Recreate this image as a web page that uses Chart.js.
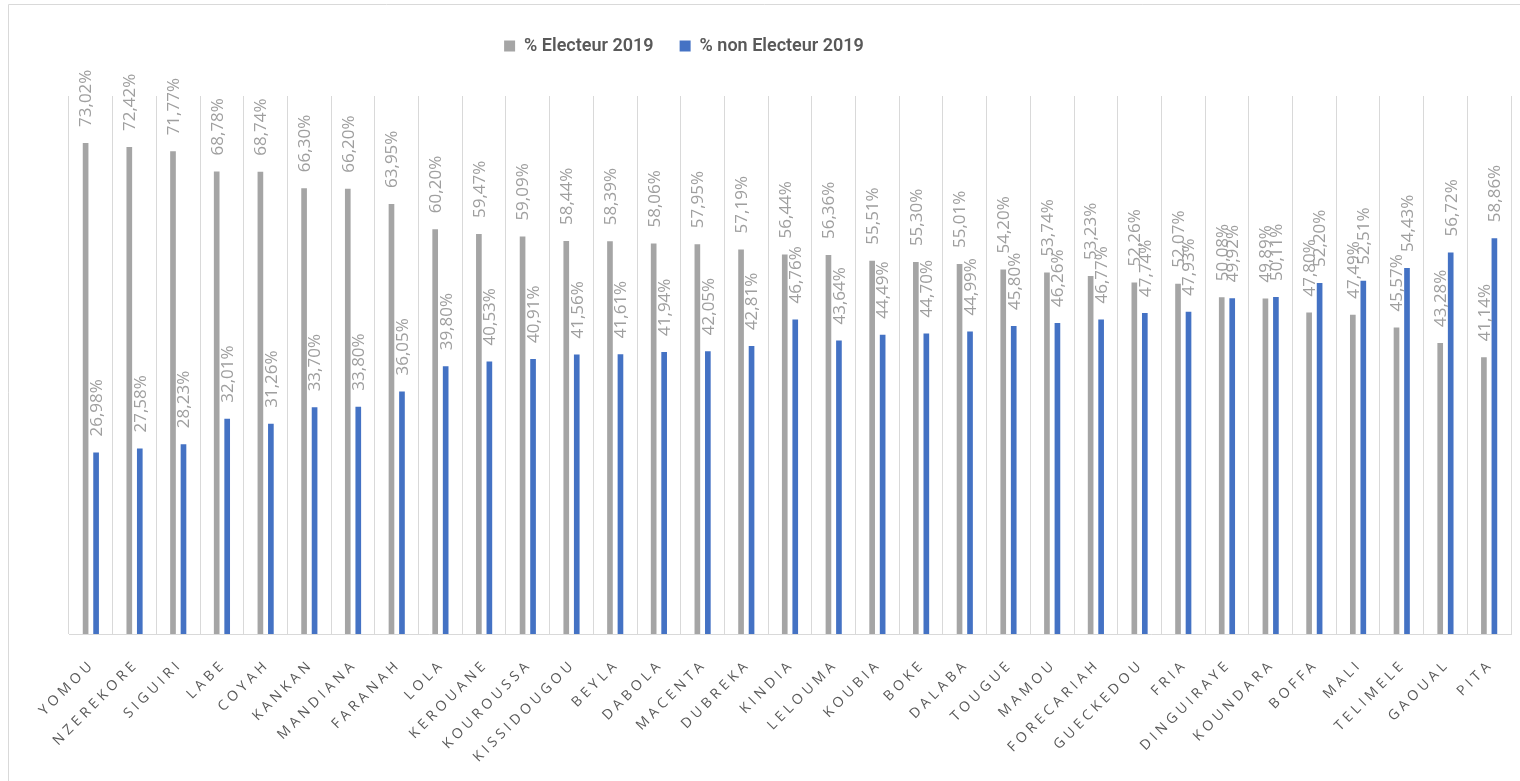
<!DOCTYPE html>
<html>
<head>
<meta charset="utf-8">
<script src="https://cdn.jsdelivr.net/npm/chart.js@4/dist/chart.umd.min.js"></script>
<style>
  html, body { margin: 0; padding: 0; background: #ffffff; }
  #wrap { position: absolute; left: 0; top: 0; width: 1520px; height: 781px; }
</style>
</head>
<body>
<div id="wrap"><canvas id="c"></canvas></div>
<script>
const categories = ["YOMOU","NZEREKORE","SIGUIRI","LABE","COYAH","KANKAN","MANDIANA","FARANAH","LOLA","KEROUANE","KOUROUSSA","KISSIDOUGOU","BEYLA","DABOLA","MACENTA","DUBREKA","KINDIA","LELOUMA","KOUBIA","BOKE","DALABA","TOUGUE","MAMOU","FORECARIAH","GUECKEDOU","FRIA","DINGUIRAYE","KOUNDARA","BOFFA","MALI","TELIMELE","GAOUAL","PITA"];
const electeur = [73.02,72.42,71.77,68.78,68.74,66.30,66.20,63.95,60.20,59.47,59.09,58.44,58.39,58.06,57.95,57.19,56.44,56.36,55.51,55.30,55.01,54.20,53.74,53.23,52.26,52.07,50.08,49.89,47.80,47.49,45.57,43.28,41.14];
const nonElecteur = [26.98,27.58,28.23,32.01,31.26,33.70,33.80,36.05,39.80,40.53,40.91,41.56,41.61,41.94,42.05,42.81,46.76,43.64,44.49,44.70,44.99,45.80,46.26,46.77,47.74,47.93,49.92,50.11,52.20,52.51,54.43,56.72,58.86];
const seriesNames = ["% Electeur 2019", "% non Electeur 2019"];

function fmt(v) { return v.toFixed(2).replace('.', ',') + '%'; }

const frame = {
  id: 'frame',
  beforeDraw(chart) {
    const ctx = chart.ctx;
    ctx.save();
    ctx.strokeStyle = '#d9d9d9';
    ctx.lineWidth = 1;
    ctx.beginPath();
    ctx.moveTo(8.5, 781); ctx.lineTo(8.5, 4.5); ctx.lineTo(1520, 4.5);
    ctx.stroke();
    ctx.restore();
  }
};

// extra space below the legend, and shift the legend left like the original
const legendTweak = {
  id: 'legendTweak',
  beforeLayout(chart) {
    const lg = chart.legend;
    if (lg && !lg._patched) {
      const orig = lg.fit;
      lg.fit = function () { orig.call(this); this.height += 31; };
      lg._patched = true;
    }
  },
  afterLayout(chart) {
    const lg = chart.legend;
    if (lg) { lg.left -= 106; lg.right -= 106; }
  }
};

const valueLabels = {
  id: 'valueLabels',
  afterDatasetsDraw(chart) {
    const ctx = chart.ctx;
    ctx.save();
    ctx.font = '400 17px "Open Sans"';
    ctx.fillStyle = '#9f9f9f';
    ctx.textAlign = 'left';
    ctx.textBaseline = 'middle';
    chart.data.datasets.forEach((ds, di) => {
      const meta = chart.getDatasetMeta(di);
      meta.data.forEach((el, i) => {
        ctx.save();
        ctx.translate(el.x + 1, el.y - 16);
        ctx.rotate(-Math.PI / 2);
        ctx.fillText(fmt(ds.data[i]), 0, 0);
        ctx.restore();
      });
    });
    ctx.restore();
  }
};

const xLabels = {
  id: 'xLabels',
  afterDraw(chart) {
    const ctx = chart.ctx;
    const xs = chart.scales.x;
    const base = chart.chartArea.bottom;
    ctx.save();
    ctx.font = '400 14px "Open Sans"';
    ctx.fillStyle = '#595959';
    ctx.textAlign = 'right';
    ctx.textBaseline = 'middle';
    if ('letterSpacing' in ctx) ctx.letterSpacing = '4px';
    categories.forEach((c, i) => {
      const x = xs.getPixelForValue(i);
      ctx.save();
      ctx.translate(x + 2, base + 28);
      ctx.rotate(-Math.PI / 4);
      ctx.fillText(c, 0, 0);
      ctx.restore();
    });
    ctx.restore();
  }
};

new Chart(document.getElementById('c'), {
  type: 'bar',
  data: {
    labels: categories,
    datasets: [
      { label: seriesNames[0], data: electeur, backgroundColor: '#a5a5a5', barPercentage: 0.54, categoryPercentage: 0.48 },
      { label: seriesNames[1], data: nonElecteur, backgroundColor: '#4472c4', barPercentage: 0.54, categoryPercentage: 0.48 }
    ]
  },
  options: {
    responsive: true,
    maintainAspectRatio: false,
    animation: false,
    layout: { padding: { left: 69, right: 9, top: 11, bottom: 147 } },
    plugins: {
      legend: {
        position: 'top',
        labels: {
          boxWidth: 11, boxHeight: 11, padding: 26,
          color: '#595959',
          font: { family: 'Roboto', size: 18, weight: '600' }
        }
      },
      tooltip: { enabled: false }
    },
    scales: {
      x: {
        grid: { display: true, color: '#d9d9d9', lineWidth: 1, drawTicks: false, offset: true },
        border: { display: true, color: '#d9d9d9' },
        ticks: { display: false }
      },
      y: {
        display: false,
        min: 0, max: 80
      }
    }
  },
  plugins: [frame, legendTweak, valueLabels, xLabels]
});
</script>
</body>
</html>
